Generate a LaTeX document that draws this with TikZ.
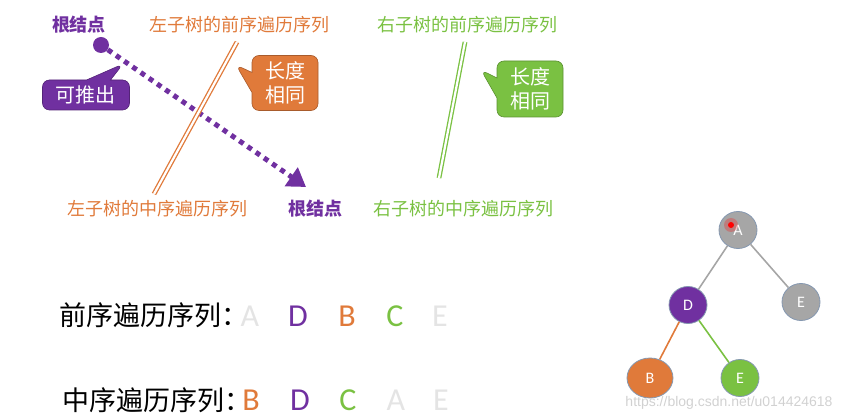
\documentclass[tikz,border=0pt]{standalone}
\usepackage{fontspec}
\setmainfont{Carlito}
\newfontfamily\cjk{Noto Sans CJK SC}
\newfontfamily\wmfont{Liberation Sans}
\usetikzlibrary{arrows.meta,shapes.callouts,shapes.geometric,positioning}
\definecolor{zpurple}{HTML}{7030A0}
\definecolor{zorange}{HTML}{E07A3A}
\definecolor{zgreen}{HTML}{7AC142}
\definecolor{zgray}{HTML}{A6A6A6}
\definecolor{zrim}{HTML}{8497B0}
\definecolor{zlight}{HTML}{E4E4E4}
\begin{document}
\begin{tikzpicture}[x=1pt,y=-1pt,semithick,
	title/.style={font=\cjk\fontsize{18}{18}\selectfont,inner sep=0pt,text=#1},
	seqname/.style={font=\cjk\fontsize{27}{27}\selectfont,inner sep=0pt,anchor=west},
	letter/.style={font=\fontsize{32}{32}\selectfont,inner sep=0pt,text=#1},
	bubble/.style={rectangle callout,rounded corners=7pt,draw=#1!75!black,fill=#1,text=white,
		font=\cjk\fontsize{20}{24}\selectfont,align=center,inner sep=2pt},
	pair/.style={draw=#1,double=white,double distance=2.2pt,line width=1.3pt},
	tnode/.style={ellipse,draw=zrim,thick,fill=#1,text=white,minimum width=38pt,minimum height=37pt,
		inner sep=0pt,font=\fontsize{16}{16}\selectfont},
	tedge/.style={draw=#1,line width=1.6pt}]
	\useasboundingbox (0,0) rectangle (855,419);

	\node[title=zpurple,font=\cjk\bfseries\fontsize{18}{18}\selectfont] (rootA) at (79,25) {根结点};
	\node[title=zorange] (lpre) at (239,25) {左子树的前序遍历序列};
	\node[title=zgreen] (rpre) at (467,25) {右子树的前序遍历序列};
	\node[title=zorange] (lin) at (157,209) {左子树的中序遍历序列};
	\node[title=zpurple,font=\cjk\bfseries\fontsize{18}{18}\selectfont] (rootB) at (315,209) {根结点};
	\node[title=zgreen] (rin) at (463,209) {右子树的中序遍历序列};

	\node[circle,fill=zpurple,minimum size=16pt,inner sep=0pt] (dot) at (101,45) {};
	\coordinate (tip) at (306,187);
	\draw[zpurple,line width=5pt,dash pattern=on 5pt off 5pt,
		-{Triangle[length=18pt,width=22pt]}] (dot) -- (tip);

	\coordinate (ltop) at (237,42);
	\coordinate (lbot) at (154,194);
	\coordinate (rtop) at (465,42);
	\coordinate (rbot) at (439,178);
	\path[pair=zorange] (ltop) -- (lbot);
	\path[pair=zgreen] (rtop) -- (rbot);

	\node[bubble=zpurple,minimum width=87pt,minimum height=30pt,callout pointer width=24pt,
		callout absolute pointer={(123,64)}] (infer) at (86,95) {可推出};
	\node[bubble=zorange,minimum width=66pt,minimum height=55pt,callout pointer width=20pt,
		callout absolute pointer={(236,65)}] (lsame) at (285,83) {长度\\相同};
	\node[bubble=zgreen,minimum width=66pt,minimum height=56pt,callout pointer width=20pt,
		callout absolute pointer={(481,70)}] (rsame) at (530,89) {长度\\相同};

	\node[seqname] (pre) at (59,315) {前序遍历序列：};
	\node[letter=zlight] (p1) at (250,316) {A};
	\node[letter=zpurple] (p2) at (298,316) {D};
	\node[letter=zorange] (p3) at (347,316) {B};
	\node[letter=zgreen] (p4) at (395,316) {C};
	\node[letter=zlight] (p5) at (440,316) {E};

	\node[seqname] (in) at (62,400) {中序遍历序列：};
	\node[letter=zorange] (i1) at (251,400) {B};
	\node[letter=zpurple] (i2) at (300,400) {D};
	\node[letter=zgreen] (i3) at (348,400) {C};
	\node[letter=zlight] (i4) at (396,400) {A};
	\node[letter=zlight] (i5) at (441,400) {E};

	\node[tnode=zgray] (A) at (738,230) {A};
	\node[tnode=zpurple] (D) at (688,305) {D};
	\node[tnode=zgray] (E) at (801,302) {E};
	\node[tnode=zorange,minimum width=46pt,minimum height=40pt] (B) at (650,378) {B};
	\node[tnode=zgreen] (C) at (740,378) {E};
	\path
(A) edge[tedge=zgray] (D)
(A) edge[tedge=zgray] (E)
(D) edge[tedge=zorange] (B)
(D) edge[tedge=zgreen] (C)
;
	\fill[red,opacity=0.25] (731,225) circle (7pt);
	\fill[red] (731,225) circle (3pt);
	\node[font=\wmfont\fontsize{14}{14}\selectfont,text=black!18] (mark) at (729,403) {https://blog.csdn.net/u014424618};
\end{tikzpicture}
\end{document}
